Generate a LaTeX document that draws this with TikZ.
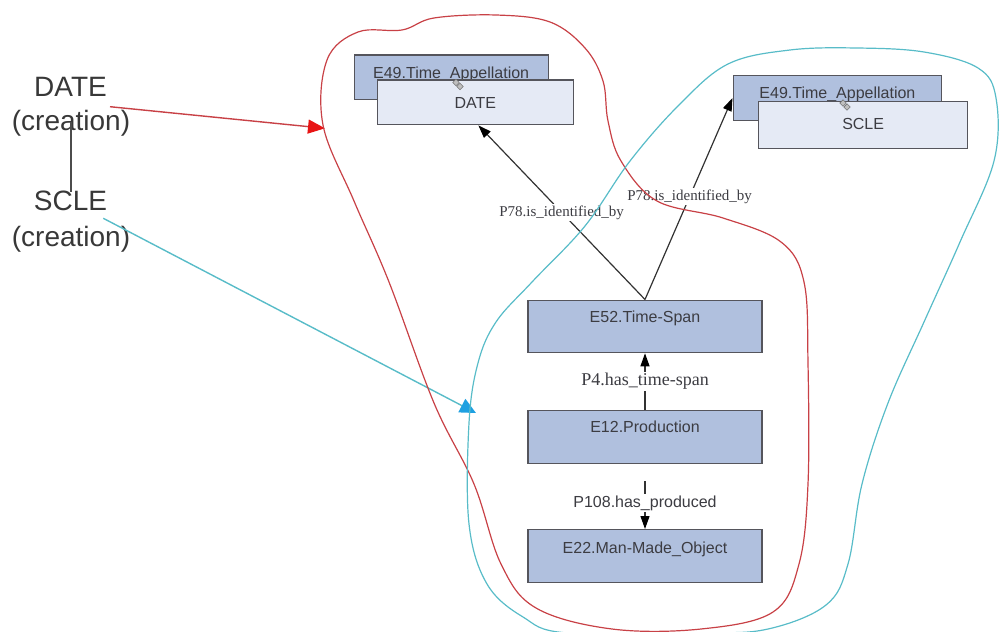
\documentclass[tikz,border=0pt]{standalone}
\usepackage{fontspec}
\setmainfont{Liberation Serif}
\setsansfont{Liberation Sans}
\usetikzlibrary{arrows.meta}
\definecolor{boxfill}{RGB}{176,192,222}
\definecolor{frontfill}{RGB}{229,234,245}
\definecolor{boxline}{RGB}{85,85,92}
\definecolor{redline}{RGB}{200,65,70}
\definecolor{redtip}{RGB}{232,20,20}
\definecolor{cyanline}{RGB}{88,188,200}
\definecolor{bluetip}{RGB}{30,160,225}
\definecolor{edgeline}{RGB}{50,50,50}
\definecolor{txt}{RGB}{60,60,66}
\begin{document}
\begin{tikzpicture}[x=1pt,y=-1pt,
  ent/.style={draw=boxline, line width=1.3pt, fill=boxfill, inner sep=0pt,
    font=\fontsize{16}{19}\selectfont\sffamily, text=txt, text height=23pt},
  front/.style={ent, fill=frontfill},
  conn/.style={draw=edgeline, line width=1.2pt,
    -{Triangle[length=13pt,width=9pt,color=black]}},
  lblserif/.style={fill=white, inner sep=1.5pt, text=txt,
    font=\fontsize{15}{17}\selectfont\rmfamily},
  lblsans/.style={fill=white, inner sep=1.5pt, text=txt,
    font=\fontsize{16}{18}\selectfont\sffamily},
  big/.style={anchor=base, inner sep=0pt, text=black!78,
    font=\fontsize{28}{33}\selectfont\sffamily},
  linkicon/.style={draw=black!55, fill=black!25, line width=0.6pt,
    minimum size=4.5pt, inner sep=0pt, rotate=45}
]
\useasboundingbox (0,0) rectangle (999,632);

% ---- boxes ----
\node[ent, minimum width=194pt, text depth=21.3pt, anchor=north west]
  (ta1) at (353.5,54.4) {E49.Time\_Appellation};
\node[front, minimum width=196pt, text height=28pt, text depth=16.6pt, anchor=north west]
  (date) at (376.7,79.4) {DATE};
\node[linkicon] (lk1a) at (456,82.5) {};
\node[linkicon] (lk1b) at (460,86.5) {};

\node[ent, minimum width=208.5pt, text depth=22.4pt, anchor=north west]
  (ta2) at (732.5,74.6) {E49.Time\_Appellation};
\node[front, minimum width=209pt, text height=28.3pt, text depth=18.9pt, anchor=north west]
  (scle) at (758,100.8) {SCLE};
\node[linkicon] (lk2a) at (843,103) {};
\node[linkicon] (lk2b) at (847,107) {};

\node[ent, minimum width=234pt, text height=22.7pt, text depth=29.8pt, anchor=north]
  (ts) at (645,299.5) {E52.Time-Span};
\node[ent, minimum width=234pt, text height=22.2pt, text depth=30.8pt, anchor=north]
  (prod) at (645,410) {E12.Production};
\node[ent, minimum width=234pt, text height=24.2pt, text depth=28.8pt, anchor=north]
  (obj) at (645,529) {E22.Man-Made\_Object};

% ---- edges ----
\draw[conn] (ts.north) -- ([xshift=3pt]date.south)
  node[pos=0.5, lblserif] {P78.is\_identified\_by};
\draw[conn] (ts.north) -- (ta2.west)
  node[pos=0.51, lblserif] {P78.is\_identified\_by};
\draw[conn] (prod.north) -- (ts.south)
  node[pos=0.5, lblserif, font=\fontsize{18}{20}\selectfont\rmfamily] {P4.has\_time-span};
\draw[conn, shorten <=17pt] (prod.south) -- (obj.north)
  node[pos=0.6, lblsans] {P108.has\_produced};

% ---- left texts ----
\node[big] (dA) at (70.5,96.7) {DATE};
\node[big] (dB) at (71,130) {(creation)};
\node[big] (sA) at (70.5,210) {SCLE};
\node[big] (sB) at (71,246) {(creation)};
\coordinate (v1) at (71,122);
\coordinate (v2) at (71,192);
\draw[black!70, line width=1.3pt] (v1) -- (v2);

\coordinate (ra) at (110,106.7);
\coordinate (rb) at (325,128.3);
\draw[redline, line width=1.4pt, -{Triangle[length=17pt,width=14pt,color=redtip]}] (ra) -- (rb);
\coordinate (ca) at (103.3,218.3);
\coordinate (cb) at (476,413);
\draw[cyanline, line width=1.4pt, -{Triangle[length=16pt,width=15pt,color=bluetip]}] (ca) -- (cb);

% ---- enclosing curves ----
\draw[redline, line width=1.2pt] plot[smooth cycle, tension=0.6] coordinates {
 (402,30) (434,18) (496,15) (550,22) (585,48) (603,81) (608,121) (621,161)
 (657,201) (723,218) (781,242) (804,282) (808,363) (808,484) (799,564)
 (773,612) (701,629) (612,629) (536,608) (501,564) (474,484) (434,403)
 (389,282) (354,201) (323,125) (327,60) (358,32)};
\draw[cyanline, line width=1.2pt] plot[smooth cycle, tension=0.6] coordinates {
 (630,161) (679,105) (728,64) (790,50) (857,48) (924,52) (978,68) (996,98)
 (994,161) (960,242) (924,322) (888,403) (862,484) (848,564) (826,605)
 (768,629) (701,633) (567,633) (523,617) (487,584) (469,524) (469,423)
 (478,363) (496,322) (532,282) (585,226)};
\end{tikzpicture}
\end{document}
